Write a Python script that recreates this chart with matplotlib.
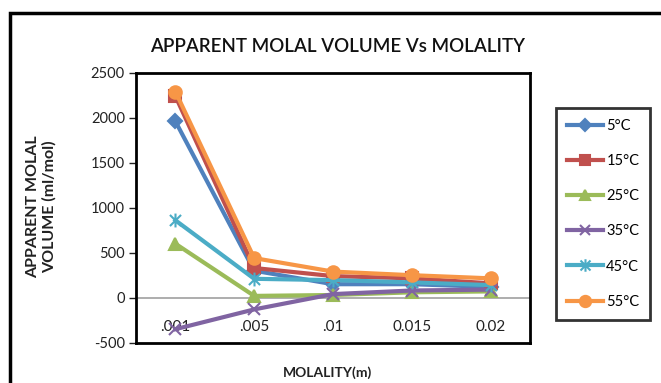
import matplotlib
matplotlib.use("Agg")
import matplotlib.pyplot as plt
from matplotlib.path import Path
from matplotlib.patches import Rectangle

plt.rcParams['font.family'] = ['Lato', 'DejaVu Sans']
plt.rcParams['axes.unicode_minus'] = False

# Molality categories and apparent molal volume (ml/mol) per temperature
molality = [".001", ".005", ".01", "0.015", "0.02"]
temps = ["5°C", "15°C", "25°C", "35°C", "45°C", "55°C"]
v_5 = [1960, 300, 150, 150, 120]
v_15 = [2240, 330, 240, 215, 160]
v_25 = [600, 20, 30, 60, 70]
v_35 = [-350, -130, 40, 80, 90]
v_45 = [860, 210, 195, 170, 140]
v_55 = [2290, 440, 290, 250, 215]

series = [v_5, v_15, v_25, v_35, v_45, v_55]
colors = ["#4F81BD", "#C0504D", "#9BBB59", "#8064A2", "#4BACC6", "#F79646"]

# asterisk marker: an "x" crossed by a vertical bar
star = Path([(-1, -1), (1, 1), (-1, 1), (1, -1), (0, -1.25), (0, 1.25)],
            [Path.MOVETO, Path.LINETO, Path.MOVETO, Path.LINETO, Path.MOVETO, Path.LINETO])
markers = ["D", "s", "^", "x", star, "o"]
msizes = [7, 8, 8, 8, 10, 9]

W, H = 661, 383
fig = plt.figure(figsize=(W / 100, H / 100), dpi=100)

# outer chart frame
fig.patches.append(Rectangle((10 / W, -0.05), 0.99, 1 - 13 / H + 0.05,
                             transform=fig.transFigure, fill=False,
                             edgecolor="black", linewidth=2.5))

left, right, top, bottom = 136, 530, 72.7, 342.7
ax = fig.add_axes([left / W, 1 - bottom / H, (right - left) / W, (bottom - top) / H])

x = list(range(len(molality)))
for vals, col, mk, ms, lab in zip(series, colors, markers, msizes, temps):
    ax.plot(x, vals, color=col, linewidth=3, marker=mk, markersize=ms,
            markerfacecolor=col, markeredgecolor=col, markeredgewidth=1.5,
            label=lab, zorder=3, clip_on=False)

ax.axhline(0, color="#A0A0A0", linewidth=1.2, zorder=1)
ax.set_xlim(-0.5, len(molality) - 0.5)
ax.set_ylim(-500, 2500)
ax.set_yticks(range(-500, 2501, 500))
ax.set_xticks(x)
ax.set_xticklabels(molality)
ax.tick_params(axis="x", length=0, pad=-16, labelsize=11, colors="#222222")
ax.tick_params(axis="y", length=5, width=1, direction="out", labelsize=10.5,
               colors="#222222", pad=3)
for s in ax.spines.values():
    s.set_linewidth(2)
    s.set_color("black")

fig.text(338 / W, 1 - 47 / H, "APPARENT MOLAL VOLUME Vs MOLALITY",
         ha="center", va="center", fontsize=13.5, fontweight="semibold",
         color="#111111")
fig.text(41 / W, 1 - 207 / H, "APPARENT MOLAL\nVOLUME (ml/mol)", rotation=90,
         ha="center", va="center", fontsize=11.5, fontweight="bold",
         color="#222222", linespacing=1.2)
fig.text(328 / W, 1 - 373 / H, "MOLALITY(m)", ha="center", va="center",
         fontsize=10, fontweight="bold", color="#222222")

leg = fig.legend(loc="upper left", bbox_to_anchor=(556 / W, 1 - 108 / H),
                 borderaxespad=0, frameon=True, fancybox=False,
                 handlelength=2.5, labelspacing=1.45, fontsize=10.5,
                 borderpad=0.75, handletextpad=0.2, markerscale=0.9)
leg.get_frame().set_edgecolor("black")
leg.get_frame().set_linewidth(2)

fig.savefig("out.png", dpi=100)
